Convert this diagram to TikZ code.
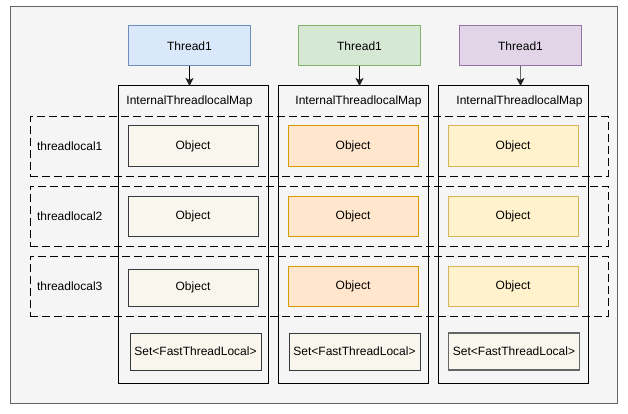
\documentclass[tikz,border=0pt]{standalone}
\usepackage{fontspec}
\setmainfont{Liberation Sans}
\usetikzlibrary{arrows.meta}
\definecolor{bgfill}{HTML}{F5F5F5}
\definecolor{bgline}{HTML}{666666}
\definecolor{bluefill}{HTML}{DAE8FC}
\definecolor{blueline}{HTML}{6C8EBF}
\definecolor{greenfill}{HTML}{D5E8D4}
\definecolor{greenline}{HTML}{82B366}
\definecolor{purplefill}{HTML}{E1D5E7}
\definecolor{purpleline}{HTML}{9673A6}
\definecolor{creamfill}{HTML}{F9F7ED}
\definecolor{creamline}{HTML}{36393D}
\definecolor{orangefill}{HTML}{FFE6CC}
\definecolor{orangeline}{HTML}{D79B00}
\definecolor{yellowfill}{HTML}{FFF2CC}
\definecolor{yellowline}{HTML}{D6B656}
\definecolor{tipcol}{HTML}{222222}
\begin{document}
\begin{tikzpicture}[x=1pt,y=-1pt,
  every node/.style={font=\fontsize{12}{14}\selectfont, inner sep=0pt, outer sep=0pt},
  box/.style={draw, line width=1pt, minimum width=#1},
  threadbox/.style={box=122pt, minimum height=40pt},
  mapbox/.style={draw=black, line width=1pt, minimum width=150pt, minimum height=297pt},
  rowbox/.style={draw=black, line width=1pt, dash pattern=on 8pt off 4pt, minimum width=578pt},
  objbox/.style={box=130pt, minimum height=40pt},
  setbox/.style={box=131pt, minimum height=37pt, fill=creamfill, draw=creamline},
  arr/.style={line width=1pt, -{Stealth[length=8pt,width=8pt,inset=2pt,color=tipcol]}}
]
\useasboundingbox (0,0) rectangle (628,414);
\node[draw=bgline, fill=bgfill, line width=1pt, minimum width=607pt, minimum height=397pt] (bg) at (314,205) {};

% thread boxes
\node[threadbox, fill=bluefill, draw=blueline] (t1) at (189.5,46) {Thread1};
\node[threadbox, fill=greenfill, draw=greenline] (t2) at (359.5,46) {Thread1};
\node[threadbox, fill=purplefill, draw=purpleline] (t3) at (520.5,46) {Thread1};

% map containers
\node[mapbox] (m1) at (193,234.5) {};
\node[mapbox] (m2) at (353,234.5) {};
\node[mapbox] (m3) at (513,234.5) {};

\node (ml1) at (189.5,101) {InternalThreadlocalMap};
\node (ml2) at (358.5,101) {InternalThreadlocalMap};
\node (ml3) at (519.5,101) {InternalThreadlocalMap};

% arrows
\draw[arr] (t1.south) -- (t1.south |- m1.north);
\draw[arr] (t2.south) -- (t2.south |- m2.north);
\draw[arr, draw=bgline] (t3.south) -- (t3.south |- m3.north);

% dashed rows
\node[rowbox, minimum height=59pt] (r1) at (319,146.5) {};
\node[rowbox, minimum height=60pt] (r2) at (319,216) {};
\node[rowbox, minimum height=60pt] (r3) at (319,286) {};

\node[anchor=west] (l1) at (37,146) {threadlocal1};
\node[anchor=west] (l2) at (37,216) {threadlocal2};
\node[anchor=west] (l3) at (37,286) {threadlocal3};

% objects column 1
\node[objbox, fill=creamfill, draw=creamline] (o11) at (193,146) {Object};
\node[objbox, fill=creamfill, draw=creamline] (o12) at (193,216) {Object};
\node[objbox, fill=creamfill, draw=creamline, minimum height=37pt] (o13) at (193,287.5) {Object};
% objects column 2
\node[objbox, fill=orangefill, draw=orangeline] (o21) at (353,146) {Object};
\node[objbox, fill=orangefill, draw=orangeline] (o22) at (353,216) {Object};
\node[objbox, fill=orangefill, draw=orangeline] (o23) at (353,286) {Object};
% objects column 3
\node[objbox, fill=yellowfill, draw=yellowline] (o31) at (513,146) {Object};
\node[objbox, fill=yellowfill, draw=yellowline] (o32) at (513,216) {Object};
\node[objbox, fill=yellowfill, draw=yellowline] (o33) at (513,286) {Object};

% set boxes
\node[setbox] (s1) at (195.5,351.5) {Set<FastThreadLocal>};
\node[setbox] (s2) at (354.5,351.5) {Set<FastThreadLocal>};
\node[setbox, draw=bgline, line width=1.5pt] (s3) at (514,351.5) {Set<FastThreadLocal>};
\end{tikzpicture}
\end{document}
